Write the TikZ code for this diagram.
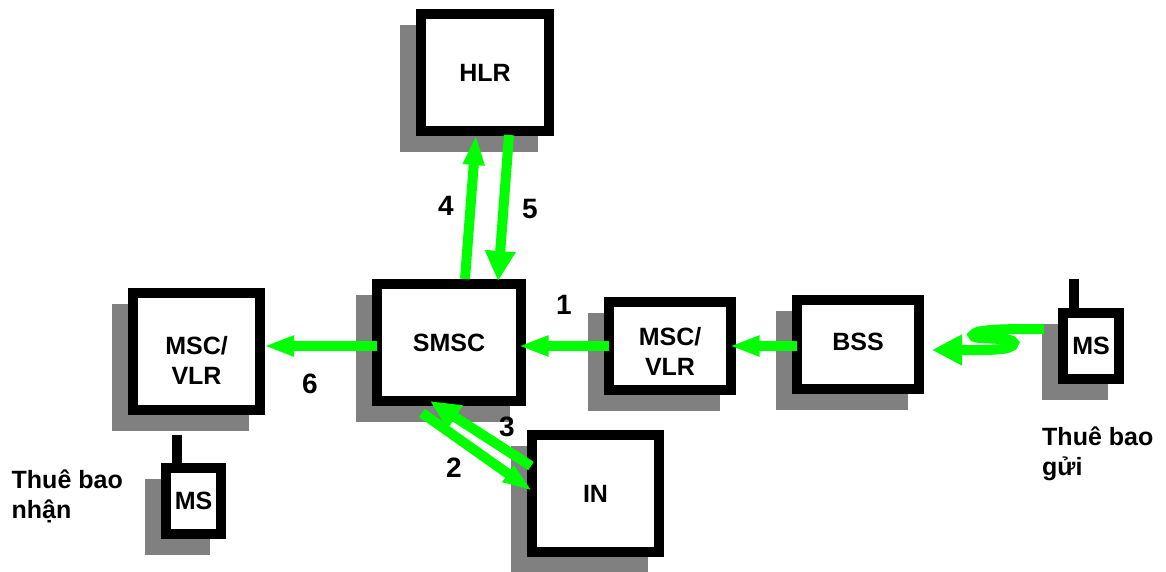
\documentclass[tikz,border=0pt]{standalone}
\usepackage{fontspec}
\setmainfont{Liberation Sans}
\usetikzlibrary{arrows.meta, positioning, shadows, calc}
\definecolor{flowgreen}{RGB}{0, 255, 0}
\definecolor{shadowgray}{RGB}{128, 128, 128}

\begin{document}
\begin{tikzpicture}[
    labelfont/.style={font=\fontsize{25}{30}\selectfont\bfseries},
    netbox/.style={
        draw=black, line width=10pt, fill=white,
        inner sep=0pt, align=center, labelfont,
        general shadow={shadow xshift=-16pt, shadow yshift=-16pt, fill=shadowgray, draw=shadowgray}
    },
    caption/.style={inner sep=0pt, align=left, labelfont},
    numlabel/.style={inner sep=0pt, font=\fontsize{28}{30}\selectfont\bfseries},
    antenna/.style={draw=black, line width=10pt},
    flow/.style={-{Triangle[length=30pt, width=#1]}, draw=flowgreen, line width=10pt},
    flow/.default=19pt
]
\path[use as bounding box] (0pt,0pt) rectangle (1166pt,-571pt);

% CENTRE OF THE NETWORK
\node[netbox, minimum width=144pt, minimum height=117pt] (smsc) at (449pt,-342.5pt) {SMSC};

% BOXES AROUND THE SMSC
\node[netbox, minimum width=128pt, minimum height=117pt, above=143pt of smsc, xshift=36pt] (hlr) {HLR};
\node[netbox, minimum width=127pt, minimum height=117pt, left=107pt of smsc, yshift=-9pt] (mscleft) {\rule{0pt}{35pt}MSC/\\VLR};
\node[netbox, minimum width=127pt, minimum height=117pt, below=24pt of smsc, xshift=146.5pt] (in) {IN};
\node[netbox, minimum width=122pt, minimum height=88pt, right=78pt of smsc, yshift=-3.5pt] (mscright) {\rule{0pt}{28pt}MSC/\\VLR};
\node[netbox, minimum width=122pt, minimum height=89pt, text depth=6pt, right=56pt of mscright, yshift=1.5pt] (bss) {BSS};

% MOBILE STATIONS
\node[netbox, minimum width=56pt, minimum height=66pt, right=134pt of bss, yshift=-1.5pt] (msright) {MS};
\node[netbox, minimum width=55pt, minimum height=66pt, below=48pt of mscleft, xshift=-3pt] (msleft) {MS};
\draw[antenna] ([xshift=-17pt]msright.north) -- ++(0pt,29pt);
\draw[antenna] ([xshift=-16.5pt]msleft.north) -- ++(0pt,28pt);

% CAPTIONS
\node[caption, below=43pt of msright.south west, anchor=north west, xshift=-16pt] (sendcap) {Thuê bao\\gửi};
\node[caption, left=38pt of msleft, yshift=5pt] (recvcap) {Thuê bao\\nhận};

% ARROWS
\draw[flow=29pt] ([yshift=17pt,xshift=-14pt]msright.west) .. controls (1005pt,-329pt) and (975pt,-329pt) .. (973pt,-335pt)
    .. controls (971pt,-341pt) and (1014pt,-336pt) .. (1014pt,-343pt)
    .. controls (1014pt,-351pt) and (985pt,-350pt) .. ([xshift=8pt,yshift=-5.5pt]bss.east);
\draw[flow] ([xshift=5pt,yshift=-1.5pt]bss.west) -- ([xshift=-6.5pt]mscright.east);
\draw[flow] ([xshift=5pt]mscright.west) -- ([xshift=-7.5pt,yshift=-3.5pt]smsc.east);
\draw[flow] ([xshift=5pt,yshift=-3.5pt]smsc.west) -- ([xshift=-1pt,yshift=5.5pt]mscleft.east);
\draw[flow=20pt] ([xshift=16pt]smsc.north) -- ([xshift=-9pt,yshift=1pt]hlr.south);
\draw[flow=29pt] ([xshift=24pt,yshift=1pt]hlr.south) -- ([xshift=49pt,yshift=-2pt]smsc.north);
\draw[flow=18pt] ([xshift=-27pt,yshift=-7pt]smsc.south) -- ([xshift=5.5pt,yshift=2.5pt]in.west);
\draw[flow=26pt] ([xshift=4pt,yshift=-36pt]in.north west) -- ([xshift=-19pt,yshift=5pt]smsc.south);

% NUMBERS
\node[numlabel] (num1) at ([xshift=38pt,yshift=37.5pt]smsc.east) {1};
\node[numlabel] (num2) at ([xshift=5pt,yshift=-62pt]smsc.south) {2};
\node[numlabel] (num3) at ([xshift=58pt,yshift=-21pt]smsc.south) {3};
\node[numlabel] (num4) at ([xshift=-3pt,yshift=73pt]smsc.north) {4};
\node[numlabel] (num5) at ([xshift=81pt,yshift=70pt]smsc.north) {5};
\node[numlabel] (num6) at ([xshift=45pt,yshift=-32pt]mscleft.east) {6};

\end{tikzpicture}
\end{document}
